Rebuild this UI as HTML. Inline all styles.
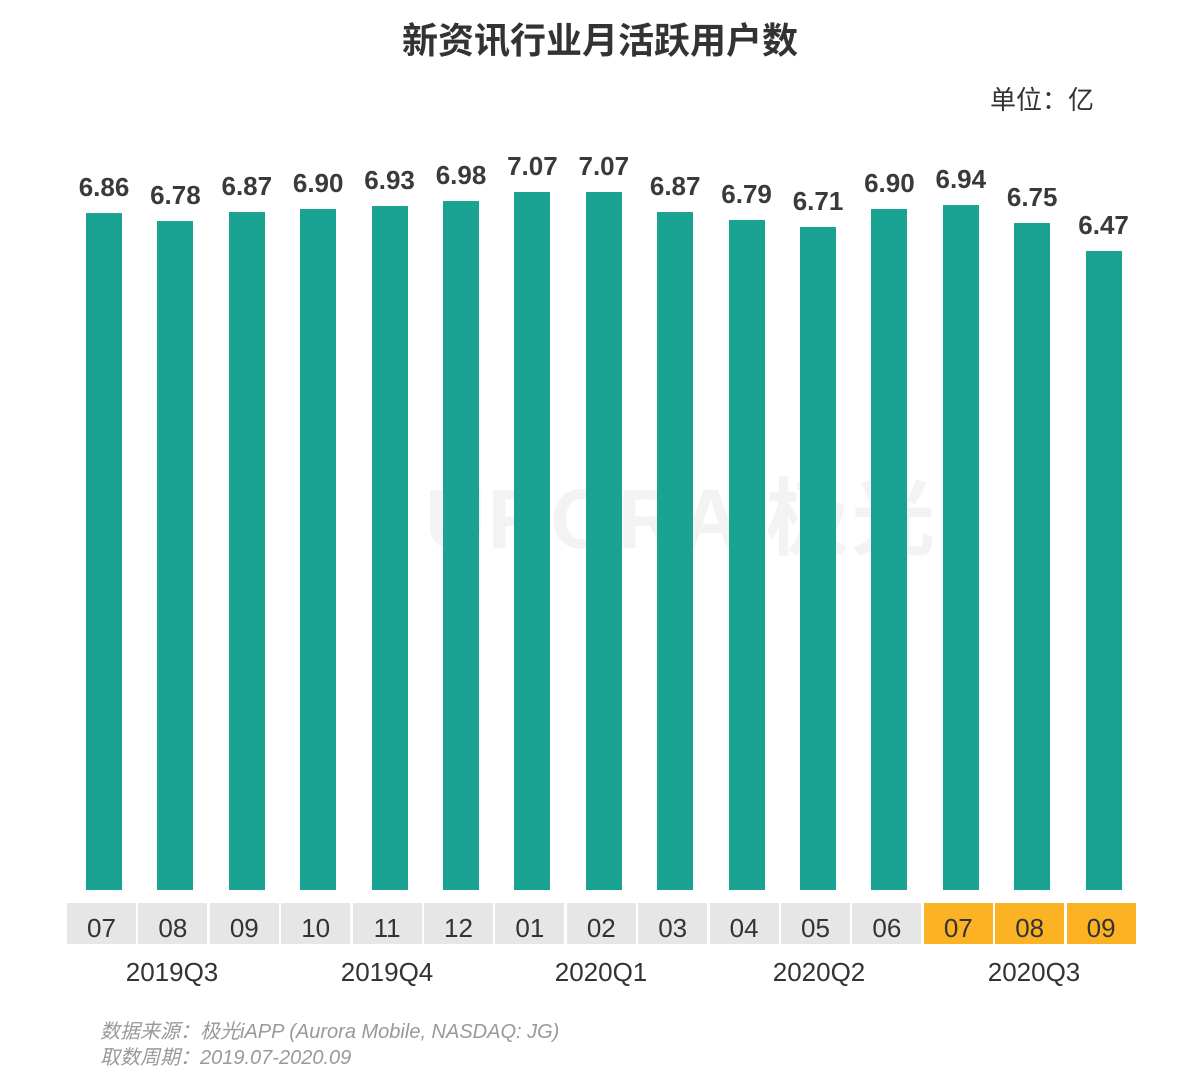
<!DOCTYPE html><html><head><meta charset="utf-8"><style>
body{margin:0;width:1200px;height:1076px;background:#fff;font-family:"Liberation Sans","Noto Sans CJK SC",sans-serif;position:relative;overflow:hidden}
.a{position:absolute}
.bar{position:absolute;width:36px;background:#1aa392;bottom:186px}
.v{position:absolute;width:100px;text-align:center;font-weight:bold;font-size:26px;color:#3a3a3a}
.m{position:absolute;top:903px;height:41px;width:69px;background:#e6e6e6;text-align:center;line-height:50px;font-size:26px;color:#333;overflow:hidden}
.y{background:#fbb324}
.q{position:absolute;top:957px;width:200px;text-align:center;font-size:26px;color:#333}
.f{position:absolute;left:100px;font-size:20px;font-style:italic;color:#999}
</style></head><body>
<div class="a" style="left:0;width:1200px;top:12px;text-align:center;font-size:36px;font-weight:bold;color:#333">新资讯行业月活跃用户数</div>
<div class="a" style="left:990px;top:80px;font-size:26px;color:#333">单位：亿</div>
<div class="a" style="left:425px;top:452px;font-size:84px;font-weight:bold;color:#f3f3f3;letter-spacing:2px">URORA 极光</div>
<div id="c"></div>
<div class="q" style="left:72px">2019Q3</div>
<div class="q" style="left:287px">2019Q4</div>
<div class="q" style="left:501px">2020Q1</div>
<div class="q" style="left:719px">2020Q2</div>
<div class="q" style="left:934px">2020Q3</div>
<div class="f" style="top:1015px">数据来源：极光iAPP (Aurora Mobile, NASDAQ: JG)</div>
<div class="f" style="top:1041px">取数周期：2019.07-2020.09</div>
<script>
var v=[6.86,6.78,6.87,6.90,6.93,6.98,7.07,7.07,6.87,6.79,6.71,6.90,6.94,6.75,6.47];
var m=["07","08","09","10","11","12","01","02","03","04","05","06","07","08","09"];
var h="";
for(var i=0;i<15;i++){var x=86+i*71.4;var t=192+(7.07-v[i])*98.3;
h+='<div class="bar" style="left:'+x+'px;top:'+t+'px"></div>';
h+='<div class="v" style="left:'+(x-32)+'px;top:'+(t-41)+'px">'+v[i].toFixed(2)+'</div>';
h+='<div class="m'+(i>=12?' y':'')+'" style="left:'+(67+i*71.4)+'px">'+m[i]+'</div>';}
document.getElementById("c").innerHTML=h;
</script>
</body></html>
